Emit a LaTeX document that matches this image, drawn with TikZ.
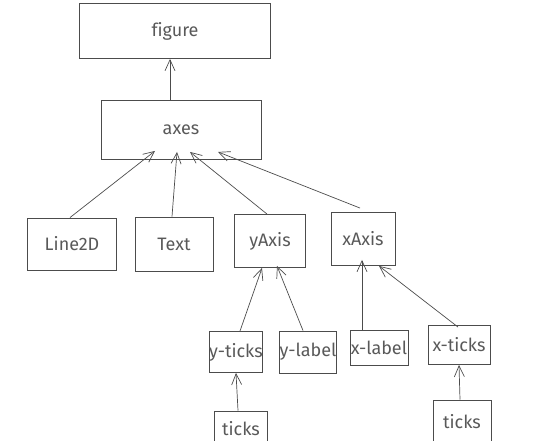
\documentclass[tikz,border=0pt]{standalone}
\usepackage{fontspec}
\setmainfont{Fira Sans}[Ligatures=NoCommon]
\usetikzlibrary{arrows.meta}

\tikzset{
  box/.style={draw=black!70,line width=0.9pt,text=black!65,font=\fontsize{18}{20}\selectfont,inner sep=0pt},
  link/.style={draw=black!70,line width=0.7pt,-{Straight Barb[length=11pt,width=10pt]}}
}

\begin{document}
\begin{tikzpicture}[x=1pt,y=-1pt]
\useasboundingbox (0,0) rectangle (559,441);

% boxes
\node[box,minimum width=191,minimum height=55] (fig) at (175,31) {figure};
\node[box,minimum width=160,minimum height=59] (axes) at (181,130) {axes};

\node[box,minimum width=89,minimum height=52] (line) at (72,244) {Line2D};
\node[box,minimum width=78,minimum height=54] (text) at (174,244) {Text};
\node[box,minimum width=71,minimum height=53] (yaxis) at (270,241) {yAxis};
\node[box,minimum width=64,minimum height=53] (xaxis) at (363,239) {xAxis};

\node[box,minimum width=52,minimum height=41] (yticks) at (236,352) {y-ticks};
\node[box,minimum width=54,minimum height=42] (ylabel) at (308,352) {y-label};
\node[box,minimum width=58,minimum height=35] (xlabel) at (379,348) {x-label};
\node[box,minimum width=62,minimum height=39] (xticks) at (459,345) {x-ticks};

\node[box,minimum width=53,minimum height=36] (yticksub) at (241,429) {ticks};
\node[box,minimum width=58,minimum height=44] (xticksub) at (462,422) {ticks};

% arrows
\draw[link] ([xshift=-11]axes.north) -- ([xshift=-5]fig.south);

\draw[link] ([xshift=-2]line.north) -- ([xshift=-26,yshift=9]axes.south);
\draw[link] ([xshift=-2]text.north) -- ([xshift=-4,yshift=8]axes.south);
\draw[link] ([xshift=-3]yaxis.north) -- ([xshift=9,yshift=8]axes.south);
\draw[link] ([xshift=-3,yshift=4]xaxis.north) -- ([xshift=37,yshift=8]axes.south);

\draw[link] ([xshift=4]yticks.north) -- ([xshift=-8]yaxis.south);
\draw[link] ([xshift=-5]ylabel.north) -- ([xshift=7,yshift=2]yaxis.south);
\draw[link] ([xshift=-17]xlabel.north) -- ([xshift=-1,yshift=6]xaxis.south);
\draw[link] ([xshift=-1,yshift=-2]xticks.north) -- ([xshift=16]xaxis.south);

\draw[link] ([xshift=-3]yticksub.north) -- (yticks.south);
\draw[link] ([xshift=-2]xticksub.north) -- (xticks.south);

\end{tikzpicture}
\end{document}
